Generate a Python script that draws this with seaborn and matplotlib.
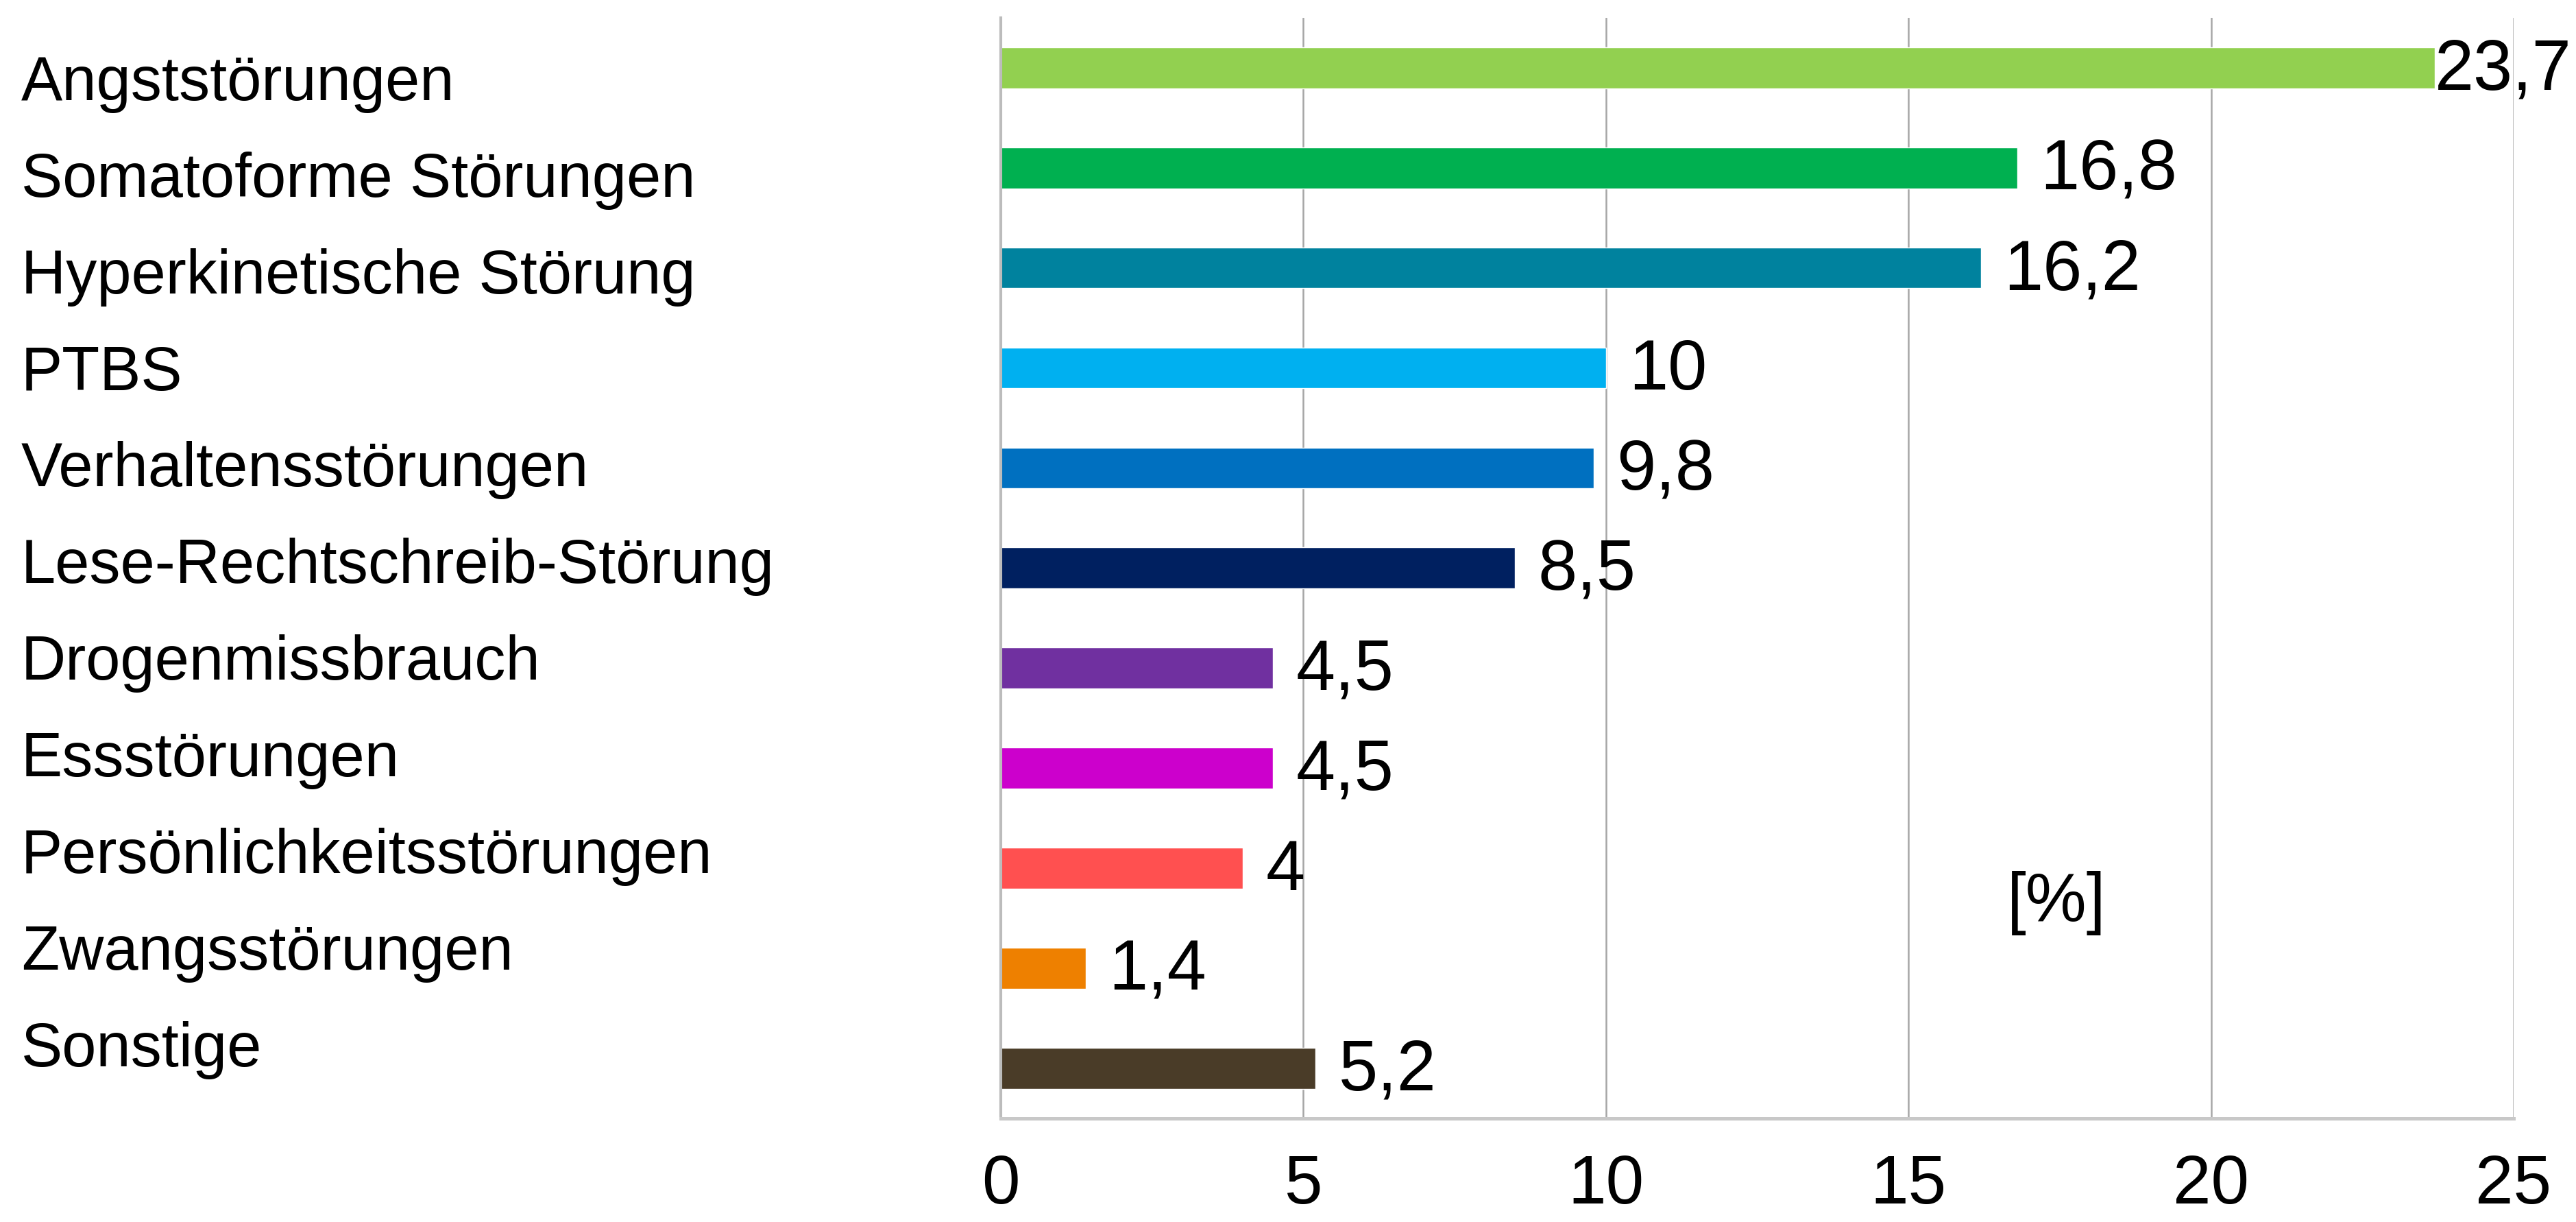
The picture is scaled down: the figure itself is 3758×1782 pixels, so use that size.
import matplotlib
matplotlib.use("Agg")
import matplotlib.pyplot as plt
import matplotlib.transforms as mtransforms
import seaborn as sns

# Daten
kategorien = ['Angststörungen', 'Somatoforme Störungen', 'Hyperkinetische Störung', 'PTBS',
              'Verhaltensstörungen', 'Lese-Rechtschreib-Störung', 'Drogenmissbrauch',
              'Essstörungen', 'Persönlichkeitsstörungen', 'Zwangsstörungen', 'Sonstige']
werte = [23.7, 16.8, 16.2, 10, 9.8, 8.5, 4.5, 4.5, 4, 1.4, 5.2]
farben = ['#92D050', '#00B050', '#00829E', '#00B0F0', '#0070C0', '#002060',
          '#7030A0', '#CC00CC', '#FF5050', '#EE8000', '#4A3C28']
x_ticks = [0, 5, 10, 15, 20, 25]

sns.set_style("white")
plt.rcParams['font.family'] = ['Liberation Sans', 'DejaVu Sans']
plt.rcParams['text.color'] = 'black'
plt.rcParams['xtick.labelcolor'] = 'black'
plt.rcParams['ytick.labelcolor'] = 'black'

fig = plt.figure(figsize=(37.58, 17.83), dpi=100)
ax = fig.add_axes([0.3885, 0.0847, 0.5873, 0.9003])

sns.barplot(x=werte, y=kategorien, hue=kategorien, palette=farben, legend=False,
            orient='h', width=0.41, saturation=1, ax=ax)

ax.set_xlim(0, 25)
ax.set_ylim(len(kategorien) - 0.5, -0.5)
ax.set_xticks(x_ticks)
ax.set_xticklabels([str(t) for t in x_ticks], fontsize=72, color='black')
ax.set_xlabel('')
ax.set_ylabel('')

# Gitter
ax.grid(axis='x', color='#a6a6a6', linewidth=1.8)
ax.grid(axis='y', visible=False)
ax.set_axisbelow(True)
for s in ['top', 'right']:
    ax.spines[s].set_visible(False)
ax.spines['left'].set_color('#bcbcbc')
ax.spines['left'].set_linewidth(3)
ax.spines['bottom'].set_color('#c8c8c8')
ax.spines['bottom'].set_linewidth(3.6)
ax.tick_params(axis='x', length=16, width=1.8, color='#a6a6a6', pad=20)

# Kategorie-Beschriftung links
ax.set_yticks(range(len(kategorien)))
ax.set_yticks([i - 0.5 for i in range(len(kategorien) + 1)], minor=True)
ax.tick_params(axis='y', which='major', length=0, pad=1029)
ax.tick_params(axis='y', which='minor', length=21, width=3, color='#bcbcbc')
for i, lbl in enumerate(ax.get_yticklabels()):
    lbl.set_horizontalalignment('left')
    lbl.set_fontsize(65)
    lbl.set_color('black')
    dy = -2.397 * (5.5 - 2.1 * i) / 100
    lbl.set_transform(lbl.get_transform() + mtransforms.ScaledTranslation(0, dy, fig.dpi_scale_trans))

# Wertebeschriftung
for i, v in enumerate(werte):
    pad = 0 if v > 23 else 24
    ax.annotate(f"{v:g}".replace('.', ','), xy=(v, i), xytext=(pad, -3),
                textcoords='offset points', ha='left', va='center', fontsize=74, color='black')

ax.text(0.698, 0.196, '[%]', transform=ax.transAxes, ha='center', va='center',
        fontsize=72, color='black')

fig.savefig('out.png', dpi=100)
